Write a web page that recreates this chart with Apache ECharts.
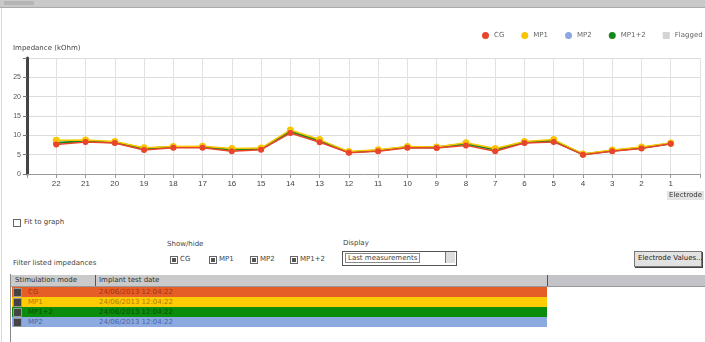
<!DOCTYPE html>
<html><head><meta charset="utf-8">
<script src="https://cdn.jsdelivr.net/npm/echarts@6/dist/echarts.min.js"></script>
<style>
html,body{margin:0;padding:0;background:#fff;font-family:"DejaVu Sans","Liberation Sans",sans-serif;}
#wrap{position:relative;width:705px;height:342px;overflow:hidden;background:#fff;}
#chart{position:absolute;left:0;top:0;width:760px;height:210px;}
.t{position:absolute;font-size:7px;color:#444;white-space:nowrap;line-height:9px;}
.cb{position:absolute;width:6px;height:6px;border:1px solid #666;background:#fff;}
.cb.on::after{content:"";position:absolute;left:1px;top:1px;width:4px;height:4px;background:#555;}
.row{position:absolute;left:12px;width:535px;height:10px;}
.row .ic{position:absolute;left:1px;top:1px;width:7px;height:7px;background:#444;border:1px solid #999;}
.row .a{position:absolute;left:16px;top:0;font-size:7px;line-height:10px;}
.row .b{position:absolute;left:87px;top:0;font-size:7px;line-height:10px;}
</style></head>
<body><div id="wrap">
<div style="position:absolute;left:0;top:0;width:705px;height:7px;background:#c9c9c9;border-bottom:1px solid #aaa"></div>
<div style="position:absolute;left:4px;top:1px;width:30px;height:4px;background:#b5b5b5"></div>
<div style="position:absolute;left:1px;top:8px;width:1px;height:334px;background:#d8d8d8"></div>
<div id="chart"></div>
<div class="cb" style="left:13px;top:219px"></div><div class="t" style="left:24px;top:218px">Fit to graph</div>
<div class="t" style="left:167px;top:240px">Show/hide</div>
<div class="cb on" style="left:170px;top:256px"></div><div class="t" style="left:180px;top:255px">CG</div>
<div class="cb on" style="left:209px;top:256px"></div><div class="t" style="left:219px;top:255px">MP1</div>
<div class="cb on" style="left:250px;top:256px"></div><div class="t" style="left:260px;top:255px">MP2</div>
<div class="cb on" style="left:290px;top:256px"></div><div class="t" style="left:300px;top:255px">MP1+2</div>
<div class="t" style="left:13px;top:259px">Filter listed impedances</div>
<div class="t" style="left:343px;top:239px">Display</div>
<div style="position:absolute;left:342px;top:251px;width:113px;height:13px;border:1px solid #555;background:#fff"></div>
<div class="t" style="left:345px;top:253px;border:1px solid #888;padding:0 2px;line-height:8px">Last measurements</div>
<div style="position:absolute;left:445px;top:252px;width:9px;height:11px;background:#ddd;border-left:1px solid #777"></div>
<div style="position:absolute;left:634px;top:251px;width:66px;height:14px;background:#e2e2e2;border:1px solid #777;box-shadow:1px 1px 0 #444"></div>
<div class="t" style="left:638px;top:254px;color:#222">Electrode Values...</div>
<div style="position:absolute;left:10px;top:274px;width:1px;height:68px;background:#888"></div>
<div style="position:absolute;left:11px;top:275px;width:694px;height:11px;background:#cacaca;border-bottom:1px solid #999"></div>
<div style="position:absolute;left:95px;top:275px;width:1px;height:11px;background:#555"></div>
<div style="position:absolute;left:547px;top:275px;width:1px;height:11px;background:#555"></div>
<div style="position:absolute;left:548px;top:275px;width:157px;height:11px;background:#c4c4c8"></div>
<div class="t" style="left:15px;top:276px;color:#333">Stimulation mode</div>
<div class="t" style="left:99px;top:276px;color:#333">Implant test date</div>
<div id="rows"></div>
</div>
<script>
// ---- data ----
const electrodes = [22,21,20,19,18,17,16,15,14,13,12,11,10,9,8,7,6,5,4,3,2,1];
const yTicks = [0,5,10,15,20,25];
const cgValues   = [7.6,8.3,8.0,6.2,6.8,6.8,5.9,6.3,10.6,8.2,5.5,5.9,6.8,6.7,7.4,5.9,8.0,8.3,5.0,5.9,6.6,7.8];
const mp1Values  = [8.7,8.8,8.4,6.8,7.1,7.2,6.6,6.7,11.4,8.9,5.8,6.3,7.1,7.0,8.1,6.6,8.4,8.9,5.2,6.2,7.0,8.0];
const mp2Values  = [8.0,8.4,8.1,6.5,6.9,7.0,6.2,6.4,10.9,8.5,5.6,6.0,6.9,6.8,7.7,6.2,8.1,8.5,5.0,6.0,6.7,7.8];
const mp12Values = [8.1,8.5,8.2,6.6,7.0,7.0,6.3,6.5,11.0,8.6,5.6,6.1,7.0,6.9,7.8,6.3,8.2,8.6,5.1,6.0,6.8,7.9];
const tableModes = ["CG","MP1","MP1+2","MP2"];
const tableDates = ["24/06/2013 12:04:22","24/06/2013 12:04:22","24/06/2013 12:04:22","24/06/2013 12:04:22"];

const colors = {CG:'#e8452c', MP1:'#f7c600', MP2:'#8ea7e2', 'MP1+2':'#13891a'};
const rowBg = {CG:'#e55e28', MP1:'#ffcb05', 'MP1+2':'#0c8c0c', MP2:'#8caae0'};
const rowFg = {CG:'#a8300e', MP1:'#b07a00', 'MP1+2':'#045004', MP2:'#4a62a8'};

const rowsEl = document.getElementById('rows');
tableModes.forEach((m,i)=>{
  const d=document.createElement('div');
  d.className='row';
  d.style.top=(287+i*10)+'px';
  d.style.background=rowBg[m];
  d.innerHTML='<div class="ic"></div><div class="a" style="color:'+rowFg[m]+'">'+m+'</div><div class="b" style="color:'+rowFg[m]+'">'+tableDates[i]+'</div>';
  rowsEl.appendChild(d);
});

const pairs = v => electrodes.map((e,i)=>[e,v[i]]);
const chart = echarts.init(document.getElementById('chart'),null,{renderer:'canvas'});
function mk(name, vals, lw, sym, z){
  return {name, type:'line', data:pairs(vals), symbol:'circle', symbolSize:sym, z,
    itemStyle:{color:colors[name]}, lineStyle:{color:colors[name], width:lw}, emphasis:{disabled:true}, animation:false};
}
chart.setOption({
  animation:false,
  grid:{left:27,right:60,top:58,bottom:36,containLabel:false},
  legend:{left:477,top:27,itemWidth:7,itemHeight:7,itemGap:17,
    textStyle:{fontSize:7,color:'#666',fontFamily:'DejaVu Sans'},
    data:[{name:'CG',icon:'circle'},{name:'MP1',icon:'circle'},{name:'MP2',icon:'circle'},{name:'MP1+2',icon:'circle'},{name:'Flagged',icon:'rect'}]},
  graphic:[
    {type:'text',left:13,top:45,style:{text:'Impedance (kOhm)',fontSize:7,fill:'#444',fontFamily:'DejaVu Sans'}},
    {type:'text',left:667,top:191,style:{text:'Electrode',fontSize:7,fill:'#333',fontFamily:'DejaVu Sans',backgroundColor:'#e4e4e4',padding:[1,2]}}
  ],
  xAxis:{type:'value',inverse:true,min:0,max:23,interval:1,
    axisLine:{lineStyle:{color:'#999'}},axisTick:{length:4,lineStyle:{color:'#999'}},
    axisLabel:{fontSize:8,color:'#444',margin:6,formatter:v=>electrodes.includes(v)?String(v):''},
    splitLine:{show:true,lineStyle:{color:'#e2e2e2'}}},
  yAxis:{type:'value',min:0,max:30,interval:5,position:'left',
    axisLine:{show:true,onZero:false,lineStyle:{color:'#444',width:3}},
    axisTick:{show:true,length:4,lineStyle:{color:'#777'}},
    axisLabel:{fontSize:7,color:'#555',margin:6,formatter:v=>yTicks.includes(v)?String(v):''},
    splitLine:{show:true,lineStyle:{color:'#dcdcdc'}}},
  series:[
    mk('MP2',mp2Values,1.5,6,1),
    mk('MP1+2',mp12Values,2,6,2),
    mk('MP1',mp1Values,1.5,7,3),
    mk('CG',cgValues,1.5,6,4),
    {name:'Flagged',type:'line',data:[],itemStyle:{color:'#d4d4d4'}}
  ]
});
</script>
</body></html>
